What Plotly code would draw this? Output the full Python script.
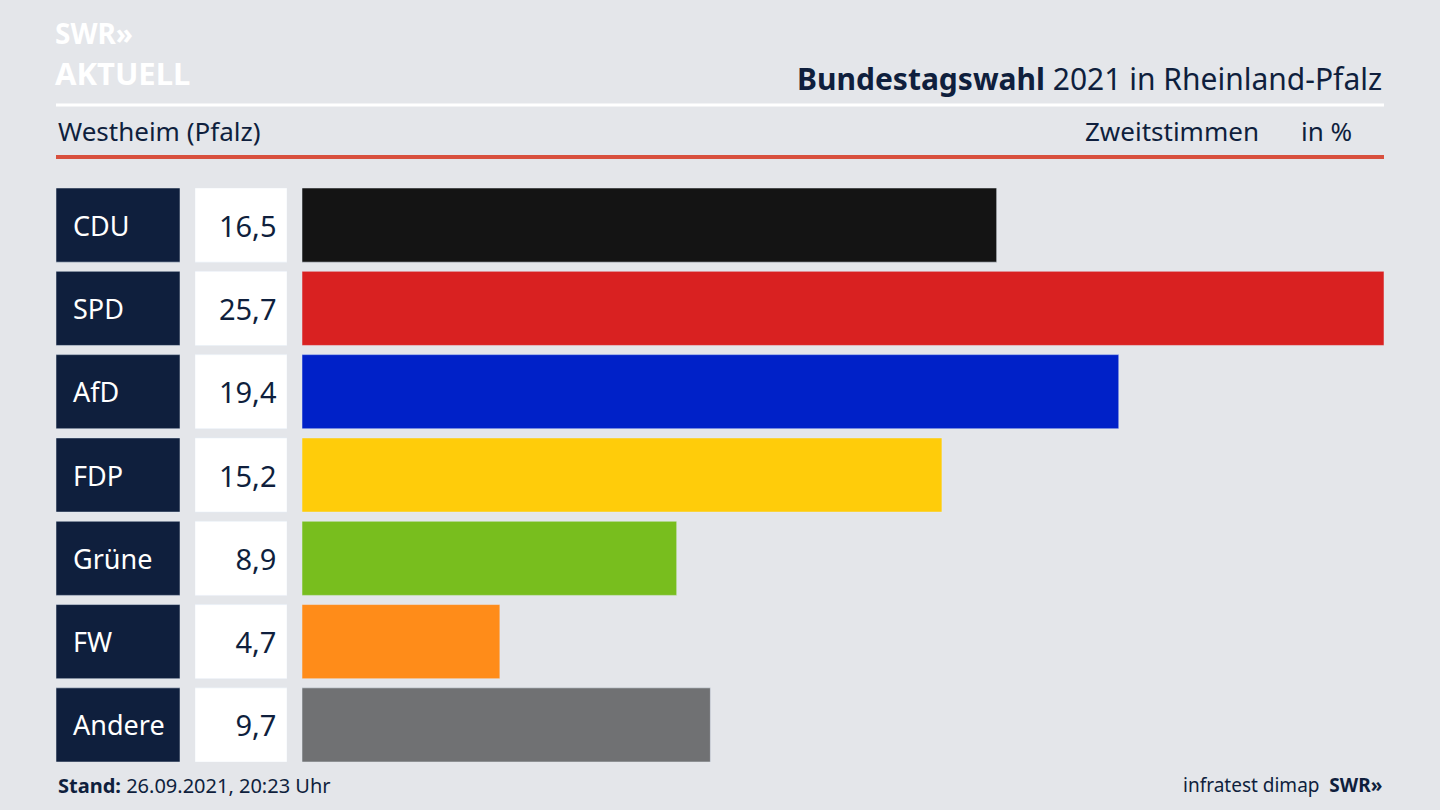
import plotly.graph_objects as go

parties = ["CDU", "SPD", "AfD", "FDP", "Grüne", "FW", "Andere"]
values = [16.5, 25.7, 19.4, 15.2, 8.9, 4.7, 9.7]
colors = ["#141414", "#d92121", "#0021c8", "#ffcc0a", "#78be1e", "#ff8c19", "#707173"]
labels = ["16,5", "25,7", "19,4", "15,2", "8,9", "4,7", "9,7"]

W, H = 1440, 810
NAVY = "#0f1f3d"
FONT = "Noto Sans"
px = lambda x: x / W
py = lambda y: 1 - y / H

fig = go.Figure()
ydom = [py(762), py(188)]
yrange = [6.445, -0.445]
fig.add_trace(go.Bar(x=[1]*7, y=parties, orientation="h", marker_color=NAVY, width=0.89,
                     text=["\u00a0\u00a0" + p for p in parties], textposition="inside", insidetextanchor="start",
                     textfont=dict(color="white", size=27, family=FONT),
                     xaxis="x2", yaxis="y", hoverinfo="skip"))
fig.add_trace(go.Bar(x=[1]*7, y=parties, orientation="h", marker_color="white", width=0.89,
                     text=[l + "\u00a0" for l in labels], textposition="inside", insidetextanchor="end",
                     textfont=dict(color=NAVY, size=29, family=FONT),
                     xaxis="x3", yaxis="y", hoverinfo="skip"))
fig.add_trace(go.Bar(x=values, y=parties, orientation="h", marker_color=colors, width=0.89,
                     xaxis="x", yaxis="y", hoverinfo="skip"))

ax = dict(showgrid=False, zeroline=False, showticklabels=False, fixedrange=True)
fig.update_layout(
    width=W, height=H, margin=dict(l=0, r=0, t=0, b=0), showlegend=False,
    paper_bgcolor="#e4e6ea", plot_bgcolor="rgba(0,0,0,0)", barmode="overlay",
    uniformtext=dict(mode="show", minsize=10),
    xaxis=dict(domain=[px(302), px(1384)], range=[0, 25.7], **ax),
    xaxis2=dict(domain=[px(56), px(180)], range=[0, 1], anchor="y", **ax),
    xaxis3=dict(domain=[px(195), px(287)], range=[0, 1], anchor="y", **ax),
    yaxis=dict(domain=ydom, range=yrange, type="category", **ax),
    shapes=[
        dict(type="line", xref="paper", yref="paper", x0=px(56), x1=px(1384), y0=py(105), y1=py(105),
             line=dict(color="white", width=3)),
        dict(type="line", xref="paper", yref="paper", x0=px(56), x1=px(1384), y0=py(157), y1=py(157),
             line=dict(color="#d8503e", width=4)),
    ],
)
def ann(text, x, y, size, color=NAVY, xanchor="left", family=FONT):
    fig.add_annotation(text=text, x=px(x), y=py(y), xref="paper", yref="paper", showarrow=False,
                       xanchor=xanchor, yanchor="middle", font=dict(size=size, color=color, family=family))
ann("<b>SWR»</b>", 53, 33, 28, "white")
ann("<b>AKTUELL</b>", 53, 73, 31, "white")
ann("<b>Bundestagswahl</b> 2021 in Rheinland-Pfalz", 1384, 78, 30, xanchor="right")
ann("Westheim (Pfalz)", 56, 131, 26)
ann("Zweitstimmen", 1083, 131, 26)
ann("in %", 1354, 131, 26, xanchor="right")
ann("<b>Stand:</b> 26.09.2021, 20:23 Uhr", 56, 785, 20)
ann("infratest dimap  <b>SWR»</b>", 1384, 785, 19, xanchor="right")
fig.write_html("out.html", config={"displayModeBar": False},
               post_script="document.body.style.margin='0';")
